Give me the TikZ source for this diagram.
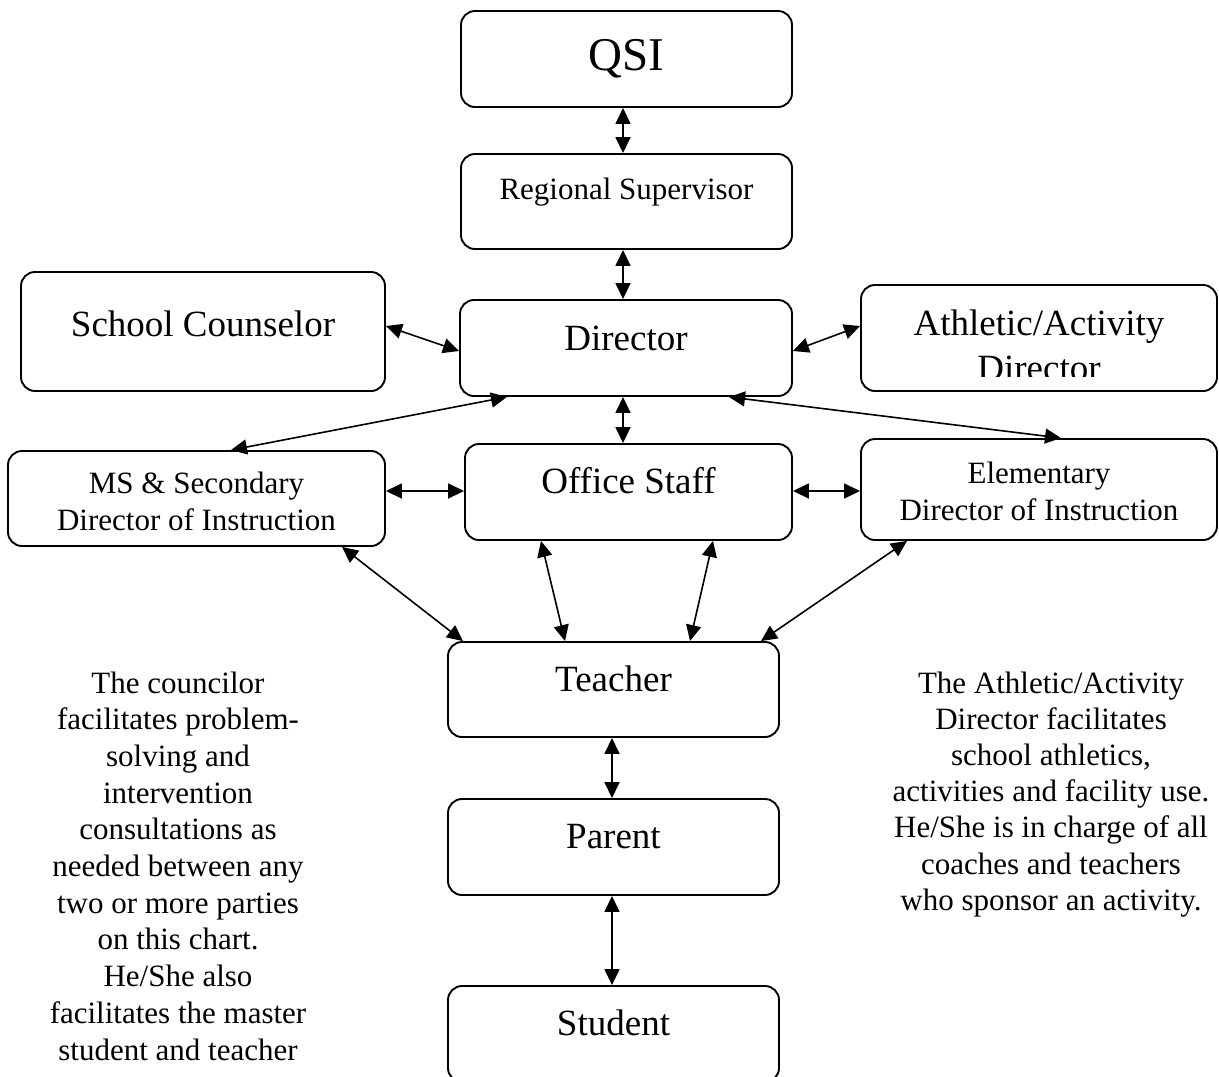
\documentclass[tikz,border=0pt]{standalone}
\usepackage{fontspec}
\setmainfont{Liberation Serif}
\usetikzlibrary{arrows.meta}
\begin{document}
\begin{tikzpicture}[x=1pt,y=-1pt,
  box/.style={draw, line width=1.9pt, rounded corners=14pt, inner sep=0pt},
  conn/.style={line width=1.6pt, {Triangle[length=16pt,width=15pt]}-{Triangle[length=16pt,width=15pt]}},
  huge/.style={font=\fontsize{47}{54}\selectfont, anchor=base, inner sep=0pt},
  big/.style={font=\fontsize{37}{42}\selectfont, anchor=base, inner sep=0pt},
  mid/.style={font=\fontsize{31}{36}\selectfont, anchor=base, inner sep=0pt},
]
\useasboundingbox (0,0) rectangle (1219,1077);
\clip (0,0) rectangle (1219,1077);

% boxes
\node[box, minimum width=331pt, minimum height=96pt]  (qsi) at (626.5,59)    {};
\node[box, minimum width=331pt, minimum height=95pt]  (reg) at (626.5,201.5) {};
\node[box, minimum width=364pt, minimum height=119pt] (sc)  at (203,331.5)   {};
\node[box, minimum width=332pt, minimum height=96pt]  (dir) at (626,348)     {};
\node[box, minimum width=356pt, minimum height=106pt] (ath) at (1039,338)    {};
\node[box, minimum width=377pt, minimum height=95pt]  (ms)  at (196.5,498.5) {};
\node[box, minimum width=327pt, minimum height=96pt]  (off) at (628.5,492)   {};
\node[box, minimum width=356pt, minimum height=101pt] (ele) at (1039,489.5)  {};
\node[box, minimum width=331pt, minimum height=95pt]  (tea) at (613.5,689.5) {};
\node[box, minimum width=331pt, minimum height=96pt]  (par) at (613.5,847)   {};
\node[box, minimum width=331pt, minimum height=96pt]  (stu) at (613.5,1034)  {};

% box texts
\node[huge] (tqsi) at (626.5,70) {QSI};
\node[mid]  (treg) at (626.5,199) {Regional Supervisor};
\node[big]  (tsc)  at (203,336) {School Counselor};
\node[big]  (tdir) at (626,350) {Director};
\node[big]  (tath1) at (1039,335) {Athletic/Activity};
\begin{scope}
  \clip (861,290) rectangle (1219,376);
  \node[big] (tath2) at (1039,380) {Director};
\end{scope}
\node[mid]  (tms1) at (196.5,493) {MS \& Secondary};
\node[mid]  (tms2) at (196.5,530) {Director of Instruction};
\node[big]  (toff) at (628.5,493) {Office Staff};
\node[mid]  (tele1) at (1039,483) {Elementary};
\node[mid]  (tele2) at (1039,520) {Director of Instruction};
\node[big]  (ttea) at (613.5,691) {Teacher};
\node[big]  (tpar) at (613.5,848) {Parent};
\node[big]  (tstu) at (613.5,1035) {Student};

% connectors
\draw[conn] ([xshift=-3.5pt]qsi.south) -- ([xshift=-3.5pt]reg.north);
\draw[conn] ([xshift=-3.5pt]reg.south) -- ([xshift=-3pt]dir.north);
\draw[conn] ([yshift=5.5pt]sc.east) -- ([yshift=-3pt]dir.west);
\draw[conn] ([yshift=-3pt]dir.east) -- ([yshift=12pt]ath.west);
\draw[conn] ([xshift=-3pt]dir.south) -- ([xshift=-5.5pt]off.north);
\draw[conn] ([xshift=-119pt]dir.south) -- ([xshift=34.5pt]ms.north);
\draw[conn] ([xshift=103pt]dir.south) -- ([xshift=22pt]ele.north);
\draw[conn] ([yshift=7.5pt]ms.east) -- ([yshift=1pt]off.west);
\draw[conn] ([yshift=1pt]off.east) -- ([yshift=-1.5pt]ele.west);
\draw[conn] ([xshift=145.5pt]ms.south) -- ([xshift=-150.5pt]tea.north);
\draw[conn] ([xshift=-87.5pt]off.south) -- ([xshift=-48.5pt]tea.north);
\draw[conn] ([xshift=84.5pt]off.south) -- ([xshift=76.5pt]tea.north);
\draw[conn] ([xshift=-132pt]ele.south) -- ([xshift=147.5pt]tea.north);
\draw[conn] ([xshift=-1.5pt]tea.south) -- ([xshift=-1.5pt]par.north);
\draw[conn] ([xshift=-1.5pt]par.south) -- ([xshift=-1.5pt]stu.north);

% annotations
\foreach \t [count=\i] in {The councilor, facilitates problem-, solving and, intervention, consultations as, needed between any, two or more parties, on this chart., He/She also, facilitates the master, student and teacher}
  \node[mid] (cl\i) at (178,{693+(\i-1)*36.7}) {\t};
\foreach \t [count=\i] in {The Athletic/Activity, Director facilitates, school athletics{,}, activities and facility use., He/She is in charge of all, coaches and teachers, who sponsor an activity.}
  \node[mid] (ar\i) at (1051,{693+(\i-1)*36.2}) {\t};
\end{tikzpicture}
\end{document}
